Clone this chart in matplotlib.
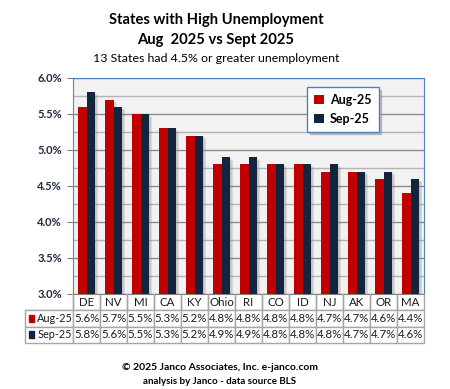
import matplotlib.pyplot as plt
from matplotlib.patches import Rectangle
from matplotlib.ticker import MultipleLocator, FuncFormatter
import numpy as np

plt.rcParams['font.family'] = ['Lato', 'DejaVu Sans']

states = ['DE', 'NV', 'MI', 'CA', 'KY', 'Ohio', 'RI', 'CO', 'ID', 'NJ', 'AK', 'OR', 'MA']
aug25 = [5.6, 5.7, 5.5, 5.3, 5.2, 4.8, 4.8, 4.8, 4.8, 4.7, 4.7, 4.6, 4.4]
sep25 = [5.8, 5.6, 5.5, 5.3, 5.2, 4.9, 4.9, 4.8, 4.8, 4.8, 4.7, 4.7, 4.6]
series_names = ['Aug-25', 'Sep-25']
colors = ['#C00000', '#13243F']

fig = plt.figure(figsize=(4.5, 3.89), dpi=100)
ax = fig.add_axes([73/450, 1-294/389, 351/450, 216/389])
ax.set_facecolor('#F2F2F2')

x = np.arange(len(states))
w = 0.3
ymin = 3.0
for i, (vals, c) in enumerate(zip([aug25, sep25], colors)):
    xs = x - w/2 + i*w
    # soft shadow to the right
    for k in range(4):
        ax.bar(xs + w*0.12*(k+1), np.array(vals) - 0.012*(k+1) - ymin, w, bottom=ymin,
               color='#808080', alpha=0.12, linewidth=0, zorder=2)
    ax.bar(xs, np.array(vals) - ymin, w, bottom=ymin, color=c, linewidth=0, zorder=3,
           label=series_names[i])

ax.set_xlim(-0.5, len(states) - 0.5)
ax.set_ylim(3.0, 6.0)
ax.yaxis.set_major_locator(MultipleLocator(0.5))
ax.yaxis.set_minor_locator(MultipleLocator(0.25))
ax.yaxis.set_major_formatter(FuncFormatter(lambda v, p: '%.1f%%' % v))
ax.grid(axis='y', which='major', color='#8C8C8C', linewidth=1, zorder=1)
ax.grid(axis='y', which='minor', color='#B4B4B4', linewidth=1, zorder=1)
ax.set_xticks([])
ax.tick_params(axis='y', which='major', length=4, color='#808080', labelsize=8,
               labelcolor='#1F2A44', pad=4)
ax.tick_params(axis='y', which='minor', length=0)
for lab in ax.get_yticklabels():
    lab.set_fontweight('bold')
ax.spines['left'].set_color('#808080')
ax.spines['bottom'].set_color('#808080')
ax.spines['top'].set_color('#4F81BD')
ax.spines['right'].set_color('#4F81BD')

# legend
leg = ax.legend(loc='upper left', bbox_to_anchor=(234/351, (294-87)/216), frameon=True,
                fontsize=9, handlelength=0.8, handleheight=0.8, handletextpad=0.5,
                labelspacing=0.55, borderpad=0.55, borderaxespad=0, fancybox=False,
                shadow={'color': '#A0A0A0', 'alpha': 0.6})
leg.get_frame().set_edgecolor('#4F81BD')
leg.get_frame().set_facecolor('white')
for t in leg.get_texts():
    t.set_fontweight('bold')

# data table below the axes
row_h = 49/216
left = (25-73)/351
cells = [[''] + states,
         [''] + ['%.1f%%' % v for v in aug25],
         [''] + ['%.1f%%' % v for v in sep25]]
col_w = [(73-25)/351 / (1 - left)] + [(1/13) / (1 - left)] * 13
tab = ax.table(cellText=cells, colWidths=col_w, cellLoc='center',
               bbox=[left, -row_h, 1 - left, row_h])
tab.auto_set_font_size(False)
for (r, c), cell in tab.get_celld().items():
    cell.set_edgecolor('#A6A6A6')
    cell.set_linewidth(1)
    cell.set_facecolor('white')
    cell.get_text().set_fontsize(8.3)
    cell.get_text().set_color('#1A1A1A')
    if r == 0 and c == 0:
        cell.visible_edges = 'BR'
    elif r == 0:
        cell.visible_edges = 'LRB'
tab.set_zorder(5)

for i, name in enumerate(series_names):
    yc = -row_h*(1.5 + i)/3
    ax.add_patch(Rectangle((left + 0.012, yc - 0.016), 0.015, 0.032, color=colors[i],
                           transform=ax.transAxes, clip_on=False, zorder=6))
    ax.text(left + 0.035, yc, name, transform=ax.transAxes, fontsize=7.8,
            va='center', ha='left', color='#1A1A1A', zorder=6)

fig.text(216/450, 1-20/389, 'States with High Unemployment', ha='center', va='center',
         fontsize=10.6, fontweight='bold')
fig.text(216/450, 1-40/389, 'Aug  2025 vs Sept 2025', ha='center', va='center',
         fontsize=10.6, fontweight='bold')
fig.text(216/450, 1-58/389, '13 States had 4.5% or greater unemployment', ha='center',
         va='center', fontsize=8.9)
fig.text(220/450, 1-367/389, '\u00a9 2025 Janco Associates, Inc. e-janco.com', ha='center',
         va='center', fontsize=7.5, fontweight='bold')
fig.text(220/450, 1-381/389, 'analysis by Janco - data source BLS', ha='center',
         va='center', fontsize=7, fontweight='bold')

fig.savefig('out.png', dpi=100, facecolor='white')
